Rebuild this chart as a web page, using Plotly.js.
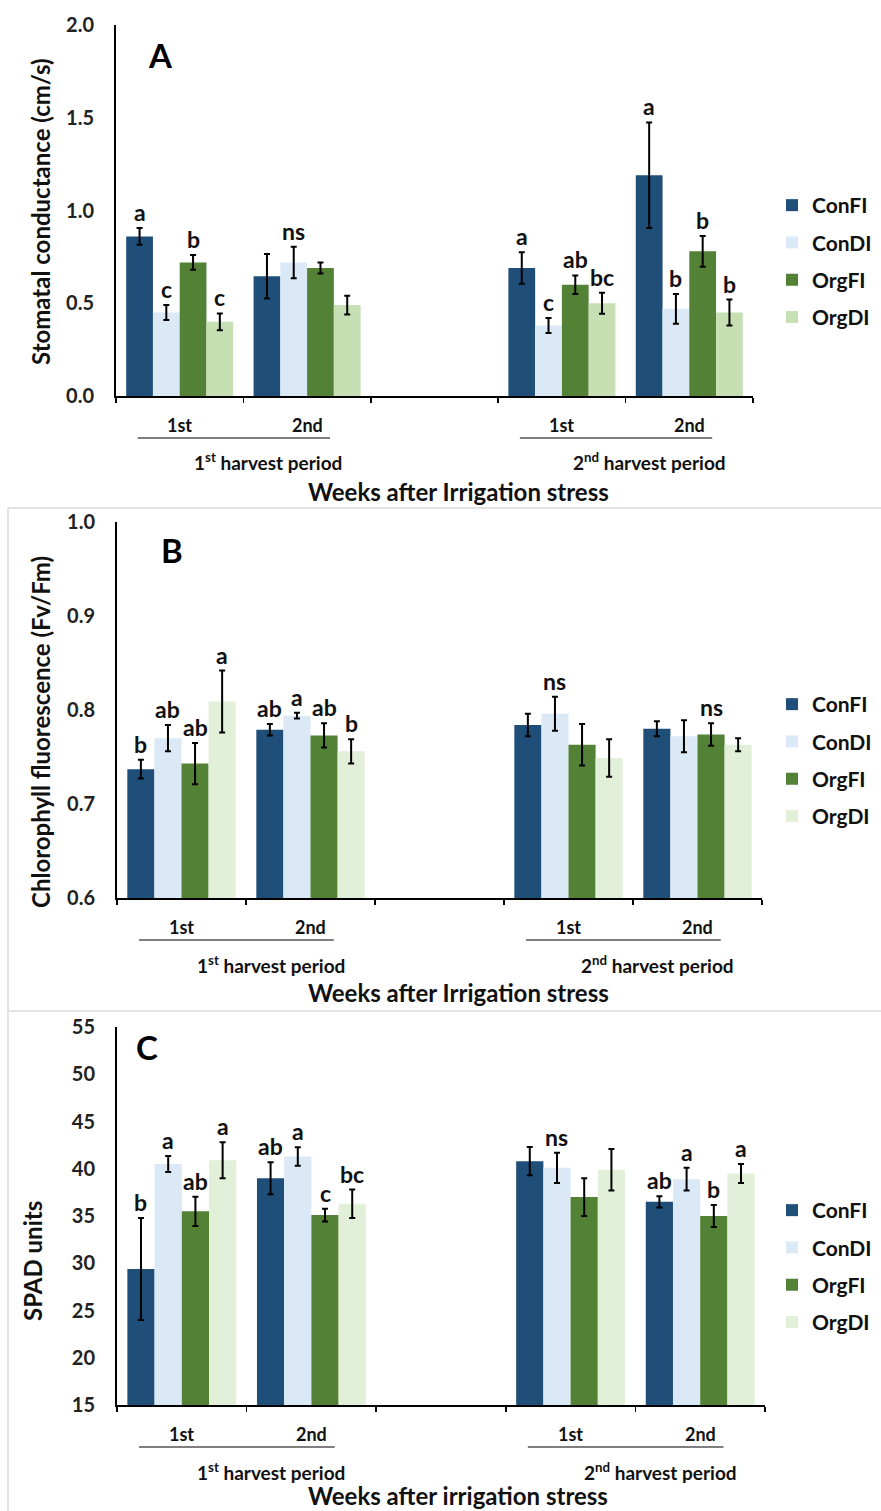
<!DOCTYPE html>
<html>
<head>
<meta charset="utf-8">
<script src="https://cdn.plot.ly/plotly-3.0.1.min.js"></script>
<style>html,body{margin:0;padding:0;background:#fff;}#chart{width:881px;height:1511px;}</style>
</head>
<body>
<div id="chart"></div>
<script>
// ---------- DATA ----------
const treatments = ['ConFI', 'ConDI', 'OrgFI', 'OrgDI'];
const weekLabels = ['1st', '2nd', '1st', '2nd'];
const weekPos = [0, 1, 3, 4];
const periodLabels = ['1<sup>st</sup> harvest period', '2<sup>nd</sup> harvest period'];

// Panel A: Stomatal conductance (cm/s)
const stomConFI = [0.86, 0.645, 0.69, 1.19];
const stomConDI = [0.45, 0.72, 0.38, 0.47];
const stomOrgFI = [0.72, 0.69, 0.60, 0.78];
const stomOrgDI = [0.40, 0.49, 0.50, 0.45];
const stomErrConFI = [0.045, 0.12, 0.085, 0.285];
const stomErrConDI = [0.04, 0.085, 0.04, 0.08];
const stomErrOrgFI = [0.04, 0.03, 0.05, 0.083];
const stomErrOrgDI = [0.045, 0.05, 0.057, 0.07];
const stomLetConFI = ['a', '', 'a', 'a'];
const stomLetConDI = ['c', 'ns', 'c', 'b'];
const stomLetOrgFI = ['b', '', 'ab', 'b'];
const stomLetOrgDI = ['c', '', 'bc', 'b'];

// Panel B: Chlorophyll fluorescence (Fv/Fm)
const chlConFI = [0.737, 0.779, 0.784, 0.780];
const chlConDI = [0.770, 0.794, 0.796, 0.772];
const chlOrgFI = [0.743, 0.773, 0.763, 0.774];
const chlOrgDI = [0.809, 0.756, 0.749, 0.763];
const chlErrConFI = [0.010, 0.006, 0.012, 0.008];
const chlErrConDI = [0.014, 0.003, 0.018, 0.017];
const chlErrOrgFI = [0.022, 0.013, 0.022, 0.012];
const chlErrOrgDI = [0.033, 0.013, 0.020, 0.007];
const chlLetConFI = ['b', 'ab', '', ''];
const chlLetConDI = ['ab', 'a', 'ns', ''];
const chlLetOrgFI = ['ab', 'ab', '', 'ns'];
const chlLetOrgDI = ['a', 'b', '', ''];

// Panel C: SPAD units
const spadConFI = [29.4, 39.0, 40.8, 36.5];
const spadConDI = [40.5, 41.3, 40.1, 38.9];
const spadOrgFI = [35.5, 35.1, 37.0, 35.0];
const spadOrgDI = [40.9, 36.3, 39.9, 39.5];
const spadErrConFI = [5.4, 1.7, 1.5, 0.6];
const spadErrConDI = [0.85, 0.97, 1.6, 1.2];
const spadErrOrgFI = [1.55, 0.67, 2.0, 1.16];
const spadErrOrgDI = [1.9, 1.5, 2.2, 1.0];
const spadLetConFI = ['b', 'ab', '', 'ab'];
const spadLetConDI = ['a', 'a', 'ns', 'a'];
const spadLetOrgFI = ['ab', 'c', '', 'b'];
const spadLetOrgDI = ['a', 'bc', '', 'a'];

// ---------- STYLE / LAYOUT ----------
const W = 881, H = 1511;
const FONT = 'Lato, "Open Sans", sans-serif';
const px = v => v / W;
const py = v => 1 - v / H;
const BARGAP = 0.16;

const panels = [
  { key: 'A', xa: 'x', ya: 'y', leg: 'legend',
    vals: [stomConFI, stomConDI, stomOrgFI, stomOrgDI],
    errs: [stomErrConFI, stomErrConDI, stomErrOrgFI, stomErrOrgDI],
    lets: [stomLetConFI, stomLetConDI, stomLetOrgFI, stomLetOrgDI],
    colors: ['#1f4e79', '#dbe8f6', '#538135', '#c6e0b4'],
    xpx: [116, 753], ypx: [25, 396], range: [0, 2], dtick: 0.5, fmt: '.1f',
    ytitle: 'Stomatal conductance (cm/s)', ytitleY: 212, ytitleX: 40,
    xtitle: 'Weeks after Irrigation stress', xtitleOff: 95, letterPos: [160, 55], legTop: 185 },
  { key: 'B', xa: 'x2', ya: 'y2', leg: 'legend2',
    vals: [chlConFI, chlConDI, chlOrgFI, chlOrgDI],
    errs: [chlErrConFI, chlErrConDI, chlErrOrgFI, chlErrOrgDI],
    lets: [chlLetConFI, chlLetConDI, chlLetOrgFI, chlLetOrgDI],
    colors: ['#1f4e79', '#dbe8f6', '#538135', '#e2efd9'],
    xpx: [117, 762], ypx: [522, 898], range: [0.6, 1.0], dtick: 0.1, fmt: '.1f',
    ytitle: 'Chlorophyll fluorescence (Fv/Fm)', ytitleY: 732, ytitleX: 40,
    xtitle: 'Weeks after Irrigation stress', xtitleOff: 95, letterPos: [172, 550], legTop: 684 },
  { key: 'C', xa: 'x3', ya: 'y3', leg: 'legend3',
    vals: [spadConFI, spadConDI, spadOrgFI, spadOrgDI],
    errs: [spadErrConFI, spadErrConDI, spadErrOrgFI, spadErrOrgDI],
    lets: [spadLetConFI, spadLetConDI, spadLetOrgFI, spadLetOrgDI],
    colors: ['#1f4e79', '#dbe8f6', '#538135', '#e2efd9'],
    xpx: [117, 765], ypx: [1027, 1405], range: [15, 55], dtick: 5, fmt: 'd',
    ytitle: 'SPAD units', ytitleY: 1261, ytitleX: 32,
    xtitle: 'Weeks after irrigation stress', xtitleOff: 90, letterPos: [147, 1047], legTop: 1190 }
];

const data = [];
const annotations = [];
const shapes = [];
const layout = {
  width: W, height: H,
  margin: { l: 0, r: 0, t: 0, b: 0 },
  paper_bgcolor: '#fff', plot_bgcolor: 'rgba(0,0,0,0)',
  barmode: 'group', bargap: BARGAP, bargroupgap: 0,
  font: { family: FONT, color: '#111', weight: 700 },
  showlegend: true,
  annotations: annotations, shapes: shapes
};

const barW = (1 - BARGAP) / treatments.length;

panels.forEach((p, pi) => {
  const sfx = pi === 0 ? '' : String(pi + 1);
  treatments.forEach((t, ti) => {
    data.push({
      type: 'bar', name: t, x: weekPos, y: p.vals[ti],
      xaxis: p.xa, yaxis: p.ya, legend: p.leg, legendgroup: p.key + t,
      marker: { color: p.colors[ti], line: { width: 0 } },
      error_y: { type: 'data', array: p.errs[ti], visible: true, color: '#000', thickness: 2, width: 3 },
      hoverinfo: 'x+y'
    });
    // significance letters above error bars
    weekPos.forEach((xv, wi) => {
      const txt = p.lets[ti][wi];
      if (!txt) return;
      annotations.push({
        xref: p.xa, yref: p.ya,
        x: xv - (1 - BARGAP) / 2 + (ti + 0.5) * barW,
        y: p.vals[ti][wi] + p.errs[ti][wi],
        text: txt, showarrow: false, yanchor: 'bottom', yshift: 0,
        font: { family: FONT, size: 23, color: '#111', weight: 700 }
      });
    });
  });

  layout['xaxis' + sfx] = {
    domain: [px(p.xpx[0]), px(p.xpx[1])], anchor: p.ya,
    range: [-0.5, 4.5], tickmode: 'linear', tick0: -0.5, dtick: 1,
    ticks: 'outside', ticklen: 5, tickwidth: 1.5, tickcolor: '#000',
    showticklabels: false, showline: true, linecolor: '#000', linewidth: 2,
    showgrid: false, zeroline: false, fixedrange: true
  };
  layout['yaxis' + sfx] = {
    domain: [py(p.ypx[1]), py(p.ypx[0])], anchor: p.xa,
    range: p.range, tickmode: 'linear', tick0: p.range[0], dtick: p.dtick,
    tickformat: p.fmt, ticks: '', ticklabelstandoff: 16,
    tickfont: { family: FONT, size: 20, color: '#222', weight: 700 },
    showline: true, linecolor: '#000', linewidth: 2,
    showgrid: false, zeroline: false, fixedrange: true
  };
  layout[p.leg] = {
    x: px(772), y: py(p.legTop), xanchor: 'left', yanchor: 'top',
    bgcolor: 'rgba(0,0,0,0)', borderwidth: 0,
    traceorder: 'grouped', tracegroupgap: 7,
    font: { family: FONT, size: 21, color: '#111', weight: 700 }
  };

  const axisBottom = p.ypx[1];
  // week labels
  weekLabels.forEach((w, wi) => {
    annotations.push({
      xref: p.xa, yref: 'paper', x: weekPos[wi], y: py(axisBottom + 29),
      text: w, showarrow: false, yanchor: 'middle',
      font: { family: FONT, size: 18, color: '#111', weight: 700 }
    });
  });
  // harvest period underlines + labels
  periodLabels.forEach((lab, k) => {
    const first = weekPos[2 * k], last = weekPos[2 * k + 1];
    shapes.push({
      type: 'line', xref: p.xa, yref: 'paper',
      x0: first - 0.33, x1: last + 0.18,
      y0: py(axisBottom + 42), y1: py(axisBottom + 42),
      line: { color: '#7f7f7f', width: 2 }
    });
    annotations.push({
      xref: p.xa, yref: 'paper', x: (first + last) / 2 + 0.19, y: py(axisBottom + 66),
      text: lab, showarrow: false, yanchor: 'middle',
      font: { family: FONT, size: 19, color: '#111', weight: 700 }
    });
  });
  // x axis title
  annotations.push({
    xref: 'paper', yref: 'paper', x: px(458), y: py(axisBottom + p.xtitleOff),
    text: p.xtitle, showarrow: false, yanchor: 'middle',
    font: { family: FONT, size: 24, color: '#111', weight: 700 }
  });
  // y axis title
  annotations.push({
    xref: 'paper', yref: 'paper', x: px(p.ytitleX), y: py(p.ytitleY),
    text: p.ytitle, showarrow: false, textangle: -90, xanchor: 'center', yanchor: 'middle',
    font: { family: FONT, size: 24, color: '#111', weight: 700 }
  });
  // panel letter
  annotations.push({
    xref: 'paper', yref: 'paper', x: px(p.letterPos[0]), y: py(p.letterPos[1]),
    text: p.key, showarrow: false, xanchor: 'center', yanchor: 'middle',
    font: { family: FONT, size: 33, color: '#000', weight: 700 }
  });
});

// light gray panel frames (B and C)
[[8, 508, W, 508], [8, 1011, W, 1011], [8, 508, 8, H]].forEach(l => {
  shapes.push({ type: 'line', xref: 'paper', yref: 'paper',
    x0: px(l[0]), y0: py(l[1]), x1: px(l[2]), y1: py(l[3]),
    line: { color: '#e3e3e3', width: 2 } });
});

Plotly.newPlot('chart', data, layout, { displayModeBar: false, staticPlot: true });
</script>
</body>
</html>
